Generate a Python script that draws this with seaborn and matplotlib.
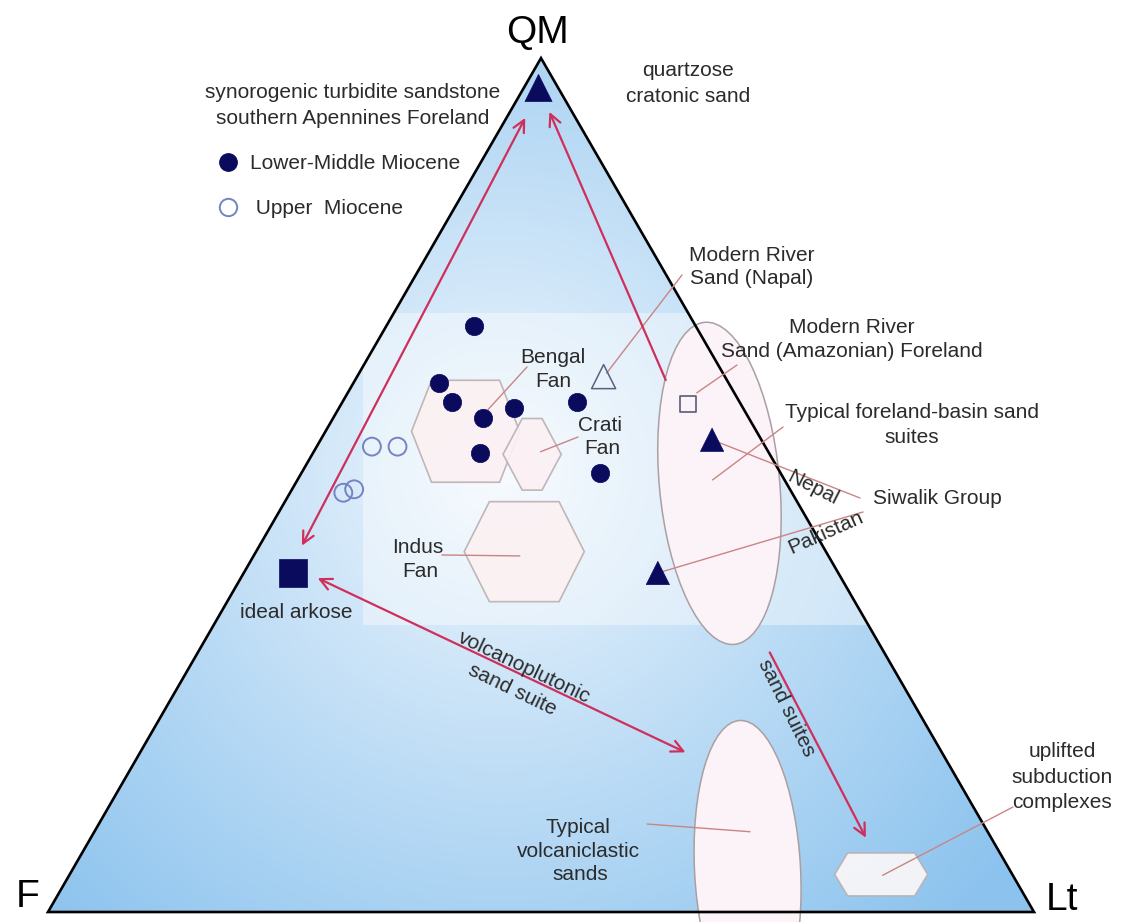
import numpy as np
import pandas as pd
import matplotlib
matplotlib.use("Agg")
import matplotlib.pyplot as plt
import seaborn as sns
from matplotlib.patches import Polygon, Ellipse, Rectangle
from matplotlib.lines import Line2D

# ---------------- data (ternary compositions, %: QM, Lt, F) ----------------
lmm_QM = [68.6, 62.0, 59.7, 57.9, 59.0, 59.7, 53.8, 51.4]
lmm_Lt = [8.9, 8.7, 11.1, 15.2, 17.8, 23.8, 16.9, 30.3]
lmm_F = [22.5, 29.3, 29.2, 26.9, 23.2, 16.5, 29.3, 18.3]

um_QM = [54.5, 54.5, 49.1, 49.5]
um_Lt = [5.6, 8.2, 5.4, 6.3]
um_F = [39.9, 37.3, 45.5, 44.2]

ref_names = ["quartzose cratonic sand", "Siwalik Nepal", "Siwalik Pakistan"]
ref_QM = [96.5, 55.3, 39.7]
ref_Lt = [1.5, 39.7, 42.0]
ref_F = [2.0, 5.0, 18.3]

napal_QM, napal_Lt, napal_F = [62.7], [25.0], [12.3]
amazon_QM, amazon_Lt, amazon_F = [59.5], [35.2], [5.3]
arkose_QM, arkose_Lt, arkose_F = [39.7], [5.0], [55.3]

hex_names = ["Bengal Fan", "Crati Fan", "Indus Fan", "uplifted subduction complexes"]
hex_QM = [56.3, 53.6, 42.2, 4.4]
hex_Lt = [14.2, 22.3, 27.2, 82.3]
hex_F = [29.5, 24.1, 30.6, 13.3]

ell_names = ["foreland-basin sand suites", "volcaniclastic sands"]
ell_QM = [50.2, 4.9]
ell_Lt = [43.0, 68.5]
ell_F = [6.8, 26.6]

trend_names = ["QM-arkose", "foreland to QM", "volcanoplutonic", "sand suites"]
trend_start_QM = [93.0, 62.3, 39.1, 30.4]
trend_start_Lt = [1.9, 31.5, 7.8, 58.0]
trend_start_F = [5.1, 6.2, 53.1, 11.6]
trend_end_QM = [42.9, 93.7, 18.7, 8.7]
trend_end_Lt = [4.3, 4.0, 55.3, 78.6]
trend_end_F = [52.8, 2.3, 26.0, 12.7]

lead_names = ["Bengal", "Crati", "Indus", "Napal", "Amazon", "Foreland", "Nepal",
              "Pakistan", "Volcaniclastic", "Subduction"]
lead_QM = [58.8, 53.9, 41.7, 63.1, 60.8, 50.6, 55.3, 39.7, 9.4, 4.3]
lead_Lt = [15.2, 23.0, 27.0, 25.1, 35.4, 42.1, 39.7, 42.0, 66.5, 82.5]
lead_F = [26.0, 23.1, 31.3, 11.8, 3.8, 7.3, 5.0, 18.3, 24.1, 13.2]

# ---------------- helpers ----------------
S3 = np.sqrt(3) / 2.0


def tern(qm, lt, f):
    qm, lt, f = np.asarray(qm, float), np.asarray(lt, float), np.asarray(f, float)
    tot = qm + lt + f
    q = qm / tot * 100
    l = lt / tot * 100
    return l + q / 2.0, q * S3


PX = 9.86  # pixels per ternary unit
X0, Y0 = 48, 912
W, H = 1138, 922


def px(x, y):
    """label anchor given in image pixels -> data coords"""
    return (x - X0) / PX, (Y0 - y) / PX


sns.set_theme(style="white")
plt.rcParams["font.family"] = ["Liberation Sans", "DejaVu Sans"]

fig = plt.figure(figsize=(W / 100, H / 100), dpi=100)
ax = fig.add_axes([0, 0, 1, 1])
ax.set_xlim(-X0 / PX, (W - X0) / PX)
ax.set_ylim((Y0 - H) / PX, Y0 / PX)
ax.axis("off")

# ---------------- background gradient in triangle ----------------
tri_xy = np.array([[0, 0], [100, 0], [50, 100 * S3]])
tri_clip = Polygon(tri_xy, closed=True, transform=ax.transData)
gx = np.linspace(0, 100, 400)
gy = np.linspace(0, 100 * S3, 350)
GX, GY = np.meshgrid(gx, gy)
cx, cy = px(500, 470)
d = np.sqrt((GX - cx) ** 2 + (GY - cy) ** 2) / (640 / PX)
t = np.clip(d, 0, 1) ** 0.9
edge = np.array([0x8c, 0xc3, 0xee]) / 255.0
inner = np.array([0xf4, 0xf9, 0xfe]) / 255.0
img = inner[None, None, :] * (1 - t[..., None]) + edge[None, None, :] * t[..., None]
im = ax.imshow(img, extent=(0, 100, 0, 100 * S3), origin="lower", zorder=0,
               interpolation="bilinear", aspect="auto")
im.set_clip_path(tri_clip)

# faint watermark panel
rx0, ry0 = px(363, 625)
rx1, ry1 = px(900, 313)
panel = Rectangle((rx0, ry0), rx1 - rx0, ry1 - ry0, facecolor="white",
                  edgecolor="none", alpha=0.4, zorder=1)
ax.add_patch(panel)
panel.set_clip_path(Polygon(tri_xy, closed=True, transform=ax.transData))

# ---------------- fields ----------------
hx, hy = tern(hex_QM, hex_Lt, hex_F)
hex_w = [5.48, 2.95, 6.09, 4.72]
hex_h = [5.17, 3.63, 5.07, 2.18]
hex_t = [0.63, 0.34, 0.58, 0.72]
hex_fc = ["#fcf1f3", "#fcf1f3", "#fcf1f3", "#fdf8f9"]
for x, y, w, h, tt, fc in zip(hx, hy, hex_w, hex_h, hex_t, hex_fc):
    verts = [(x - w, y), (x - tt * w, y + h), (x + tt * w, y + h), (x + w, y),
             (x + tt * w, y - h), (x - tt * w, y - h)]
    ax.add_patch(Polygon(verts, closed=True, facecolor=fc, edgecolor="#b9b0b2",
                         lw=1.2, alpha=0.9, zorder=2))

ex, ey = tern(ell_QM, ell_Lt, ell_F)
ell_len = [32.8, 30.4]
ell_wid = [12.2, 10.75]
ell_ang = [95.3, 93.0]
for x, y, L, Wd, a in zip(ex, ey, ell_len, ell_wid, ell_ang):
    ax.add_patch(Ellipse((x, y), L, Wd, angle=a, facecolor="#fbf3f7",
                         edgecolor="#ab9fa2", lw=1.1, zorder=2))

# triangle outline
ax.add_patch(Polygon(tri_xy, closed=True, fill=False, edgecolor="black", lw=1.9,
                     zorder=3, joinstyle="miter"))

# ---------------- leader lines ----------------
lx, ly = tern(lead_QM, lead_Lt, lead_F)
lead_anchor = [(527, 367), (578, 437), (442, 555), (682, 275), (737, 365),
               (783, 427), (860, 498), (863, 512), (647, 824), (1013, 807)]
for (ax0, ay0), x1, y1 in zip(lead_anchor, lx, ly):
    x0, y0 = px(ax0, ay0)
    ax.plot([x0, x1], [y0, y1], color="#c98585", lw=1.0, zorder=4,
            solid_capstyle="round")

# ---------------- trend arrows ----------------
sx, sy = tern(trend_start_QM, trend_start_Lt, trend_start_F)
tx, ty = tern(trend_end_QM, trend_end_Lt, trend_end_F)
styles = ["<->", "->", "<->", "->"]
for x0, y0, x1, y1, st in zip(sx, sy, tx, ty, styles):
    ax.annotate("", xy=(x1, y1), xytext=(x0, y0),
                arrowprops=dict(arrowstyle=st + ",head_length=0.7,head_width=0.35",
                                color="#cf2f5b", lw=1.6, shrinkA=0, shrinkB=0),
                zorder=5)

# ---------------- data points ----------------
navy = "#0b0b5e"
df_lmm = pd.DataFrame(dict(zip(["x", "y"], tern(lmm_QM, lmm_Lt, lmm_F))))
df_um = pd.DataFrame(dict(zip(["x", "y"], tern(um_QM, um_Lt, um_F))))
df_ref = pd.DataFrame(dict(zip(["x", "y"], tern(ref_QM, ref_Lt, ref_F))))
df_ref["name"] = ref_names
df_nap = pd.DataFrame(dict(zip(["x", "y"], tern(napal_QM, napal_Lt, napal_F))))
df_ama = pd.DataFrame(dict(zip(["x", "y"], tern(amazon_QM, amazon_Lt, amazon_F))))
df_ark = pd.DataFrame(dict(zip(["x", "y"], tern(arkose_QM, arkose_Lt, arkose_F))))

sns.scatterplot(data=df_lmm, x="x", y="y", marker="o", s=175, color=navy,
                edgecolor=navy, linewidth=0.5, ax=ax, zorder=6, legend=False)
sns.scatterplot(data=df_um, x="x", y="y", marker="o", s=165, color="none",
                edgecolor="#7583c4", linewidth=1.4, ax=ax, zorder=6, legend=False)
sns.scatterplot(data=df_ref, x="x", y="y", marker="^", s=[380, 280, 280],
                color=navy, edgecolor=navy, linewidth=0.5, ax=ax, zorder=6, legend=False)
sns.scatterplot(data=df_nap, x="x", y="y", marker="^", s=300, color="none",
                edgecolor="#5c5f80", linewidth=1.1, ax=ax, zorder=6, legend=False)
sns.scatterplot(data=df_ama, x="x", y="y", marker="s", s=130, color="none",
                edgecolor="#4d4f6e", linewidth=1.1, ax=ax, zorder=6, legend=False)
sns.scatterplot(data=df_ark, x="x", y="y", marker="s", s=380, color=navy,
                edgecolor=navy, linewidth=0.5, ax=ax, zorder=6, legend=False)

# ---------------- legend ----------------
handles = [Line2D([], [], marker="o", ls="none", markersize=12.5, markerfacecolor=navy,
                  markeredgecolor=navy),
           Line2D([], [], marker="o", ls="none", markersize=12.5, markerfacecolor="none",
                  markeredgecolor="#7583c4", markeredgewidth=1.4)]
leg = ax.legend(handles, ["Lower-Middle Miocene", " Upper  Miocene"], loc="upper left",
                bbox_to_anchor=(218 / W, 1 - 154 / H), bbox_transform=fig.transFigure,
                frameon=False, fontsize=15, handletextpad=0.55, labelspacing=1.25,
                borderpad=0, borderaxespad=0, handlelength=1.0)
for txt in leg.get_texts():
    txt.set_color("#2b2b2b")

# ---------------- text ----------------
tc = "#2b2b2b"


def lab(x, y, s, size=15, ha="center", rot=0, color=tc):
    xx, yy = px(x, y)
    ax.text(xx, yy, s, fontsize=size, ha=ha, va="center", rotation=rot, color=color,
            rotation_mode="anchor", zorder=7, linespacing=1.15)


lab(538, 33, "QM", size=28, color="black")
lab(28, 897, "F", size=28, color="black")
lab(1062, 900, "Lt", size=28, color="black")

lab(353, 92, "synorogenic turbidite sandstone")
lab(353, 118, "southern Apennines Foreland")
lab(688, 70, "quartzose")
lab(688, 96, "cratonic sand")
lab(752, 255, "Modern River")
lab(752, 278, "Sand (Napal)")
lab(852, 327, "Modern River")
lab(852, 351, "Sand (Amazonian) Foreland")
lab(912, 412, "Typical foreland-basin sand")
lab(912, 437, "suites")
lab(937, 498, "Siwalik Group")
lab(813, 488, "Nepal", rot=-27)
lab(826, 533, "Pakistan", rot=24)
lab(553, 357, "Bengal")
lab(553, 381, "Fan")
lab(600, 425, "Crati")
lab(602, 448, "Fan")
lab(418, 547, "Indus")
lab(420, 571, "Fan")
lab(296, 612, "ideal arkose")
lab(524, 667, "volcanoplutonic", rot=-25.4)
lab(512, 690, "sand suite", rot=-25.8)
lab(786, 708, "sand suites", rot=-63.7)
lab(578, 827, "Typical")
lab(578, 851, "volcaniclastic")
lab(580, 874, "sands")
lab(1062, 751, "uplifted")
lab(1062, 777, "subduction")
lab(1062, 802, "complexes")

fig.savefig("out.png", dpi=100, facecolor="white")
